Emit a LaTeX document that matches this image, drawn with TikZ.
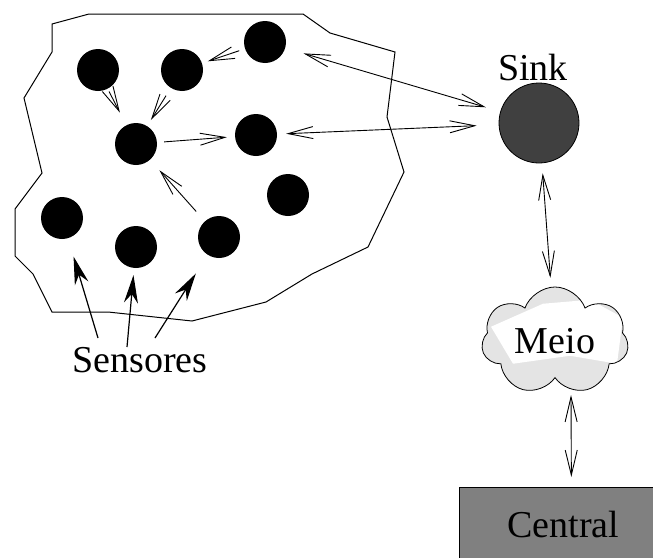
\documentclass[tikz,border=0pt]{standalone}
\usepackage{fontspec}
\setmainfont{Liberation Serif}
\usetikzlibrary{arrows.meta,shapes.symbols}

\definecolor{sinkgray}{HTML}{404040}
\definecolor{centralgray}{HTML}{808080}
\definecolor{cloudgray}{HTML}{E4E4E4}

\begin{document}
\begin{tikzpicture}[x=1pt,y=-1pt,
    sensor/.style={circle,fill=black,minimum size=42pt,inner sep=0pt},
    lbl/.style={font=\rmfamily\fontsize{38pt}{40pt}\selectfont,inner sep=0pt},
    hop/.style={-{Straight Barb[length=25pt,width=12pt]},line width=0.9pt},
    link/.style={{Straight Barb[length=25pt,width=12pt]}-{Straight Barb[length=25pt,width=12pt]},line width=0.9pt},
    tag/.style={-{Stealth[length=28pt,width=14pt,inset=9pt]},line width=1.2pt}]
    \useasboundingbox (0,0) rectangle (653,557);

    % Sensor field (outline)
    \draw[line width=1pt] (52,24) -- (89,14) -- (303,14) -- (330,33) -- (395,52)
        -- (387,117) -- (404,172) -- (368,247) -- (312,274) -- (266,302)
        -- (192,321) -- (108,312) -- (52,312) -- (33,274) -- (15,256)
        -- (15,209) -- (42,173) -- (24,98) -- (52,52) -- cycle;

    % Sensor nodes
    \node[sensor] (a) at (98,70) {};
    \node[sensor] (b) at (182,70) {};
    \node[sensor] (c) at (265,42) {};
    \node[sensor] (d) at (136,144) {};
    \node[sensor] (e) at (256,135) {};
    \node[sensor] (f) at (288,195) {};
    \node[sensor] (g) at (62,218) {};
    \node[sensor] (h) at (136,247) {};
    \node[sensor] (i) at (219,237) {};

    % Hops inside the field
    \draw[hop,shorten <=6pt,shorten >=6pt] (c) -- (b);
    \draw[hop,shorten <=3pt,shorten >=14pt] (a) -- (d);
    \draw[hop,shorten <=9pt,shorten >=7pt] (b) -- (d);
    \draw[hop,shorten <=7pt,shorten >=8pt] (d) -- (e);
    \draw[hop,shorten <=13pt,shorten >=14pt] (i) -- (d);

    % Sink
    \node[circle,draw,line width=0.8pt,fill=sinkgray,minimum size=80pt,
        label={[lbl,label distance=2pt,xshift=-6pt]above:Sink}] (sink) at (539,123) {};
    \draw[link,shorten <=19pt,shorten >=15pt] (c) -- (sink);
    \draw[link,shorten <=9pt,shorten >=22pt] (e) -- (sink);

    % Medium (cloud)
    \node[cloud,draw,line width=0.8pt,fill=cloudgray,cloud puffs=7,cloud puff arc=140,aspect=1.4,
        minimum width=147pt,minimum height=108pt,lbl,
        path picture={
            \fill[white] ([shift={(-64,-13)}]path picture bounding box.center)
                -- ([shift={(-12,-36)}]path picture bounding box.center)
                -- ([shift={(35,-40)}]path picture bounding box.center)
                -- ([shift={(68,-22)}]path picture bounding box.center)
                -- ([shift={(62,24)}]path picture bounding box.center)
                -- ([shift={(15,16)}]path picture bounding box.center)
                -- ([shift={(-42,24)}]path picture bounding box.center) -- cycle;
        }] (meio) at (555,341) {Meio};
    \draw[link,shorten <=10pt,shorten >=9pt] (sink) -- (meio);

    % Central station
    \node[draw,line width=0.8pt,fill=centralgray,anchor=north west,
        minimum width=208pt,minimum height=74pt,lbl] (central) at (459,487) {Central};
    \draw[link,shorten >=10pt] ([shift={(16,54)}]meio.center) -- ([xshift=8pt]central.north);

    % Sensores label
    \node[lbl,anchor=base] (sens) at (140,372) {Sensores};
    \coordinate (s1) at (98,338);
    \coordinate (s2) at (127,347);
    \coordinate (s3) at (155,338);
    \draw[tag,shorten >=19pt] (s1) -- (g);
    \draw[tag,shorten >=7pt] (s2) -- (h);
    \draw[tag,shorten >=22pt] (s3) -- (i);

\end{tikzpicture}
\end{document}
